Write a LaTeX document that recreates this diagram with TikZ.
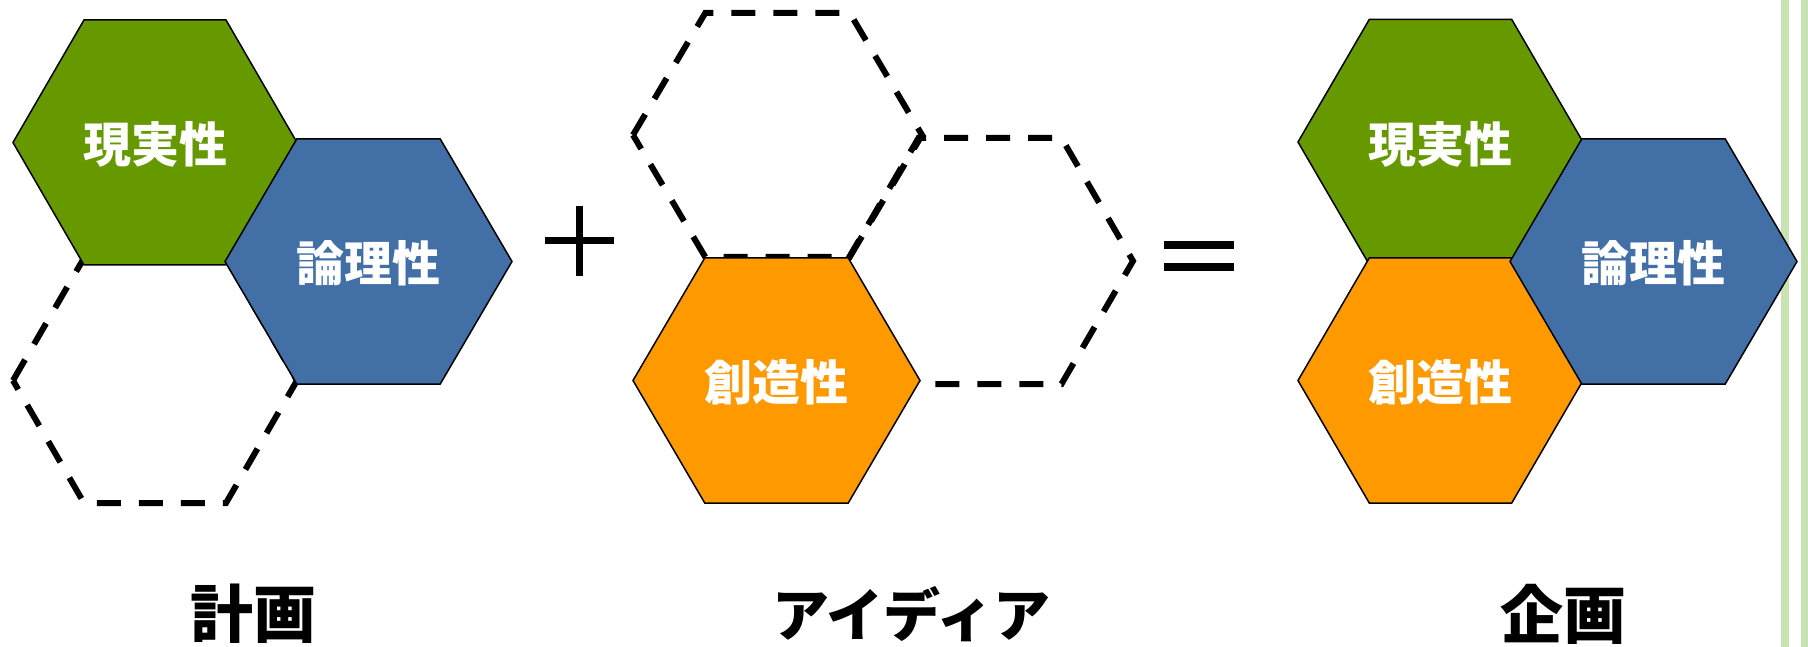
\documentclass[tikz,border=0pt]{standalone}
\usepackage{fontspec}
\newfontfamily\jp{Noto Sans CJK JP}
\definecolor{hgreen}{HTML}{669900}
\definecolor{hblue}{HTML}{416FA6}
\definecolor{horange}{HTML}{FF9900}
\definecolor{barcol}{HTML}{C9E2B3}
\tikzset{
  solidhex/.style={draw=black, line width=1.5pt, line join=miter},
  dashhex/.style={draw=black, line width=6pt, dash pattern=on 24pt off 18pt, line join=miter},
  hexlabel/.style={text=white, font=\jp\bfseries\fontsize{48}{52}\selectfont, inner sep=0pt},
  biglabel/.style={text=black, font=\jp\bfseries\fontsize{63}{66}\selectfont, inner sep=0pt},
  katalabel/.style={text=black, font=\jp\bfseries\fontsize{57}{62}\selectfont, inner sep=0pt},
  signbar/.style={fill=black, draw=none}
}
% \hexa[style]{cx}{cy}{R}{h}
\newcommand{\hexa}[5][]{%
  \path[#1] ({#2-#4},#3) -- ({#2-#4/2},{#3-#5}) -- ({#2+#4/2},{#3-#5}) -- ({#2+#4},#3)
    -- ({#2+#4/2},{#3+#5}) -- ({#2-#4/2},{#3+#5}) -- cycle;}
\begin{document}
\begin{tikzpicture}[x=1pt,y=-1pt]
\useasboundingbox (0,0) rectangle (1808,647);
% side bars
\fill[barcol] (1781,0) rectangle (1789,647);
\fill[barcol] (1801,0) rectangle (1808,647);

% ---- left group: plan
\hexa[dashhex]{155}{380.5}{142}{122.5}
\hexa[solidhex, fill=hgreen]{155}{142.5}{142}{122.5}
\hexa[solidhex, fill=hblue]{368.5}{261.5}{143.5}{122.5}
\node[hexlabel] (l1) at (155,144) {現実性};
\node[hexlabel] (l2) at (368.5,263) {論理性};

% plus sign
\fill[signbar] (545,237) rectangle (614,244);
\fill[signbar] (576,206) rectangle (583,276);

% ---- middle group: idea
\hexa[dashhex]{777.5}{135}{144.5}{122}
\hexa[dashhex]{990}{261}{143}{123}
\hexa[solidhex, fill=horange]{776.5}{380.5}{143.5}{122.5}
\node[hexlabel] (m1) at (776.5,382) {創造性};

% equals sign
\fill[signbar] (1164,241) rectangle (1234,249);
\fill[signbar] (1164,263) rectangle (1234,271);

% ---- right group: project
\hexa[solidhex, fill=hgreen]{1440.5}{142}{142.5}{122.5}
\hexa[solidhex, fill=horange]{1440.5}{380.5}{142.5}{122.5}
\hexa[solidhex, fill=hblue]{1653.5}{261.5}{143.5}{122.5}
\node[hexlabel] (r1) at (1440.5,144) {現実性};
\node[hexlabel] (r2) at (1653.5,263) {論理性};
\node[hexlabel] (r3) at (1440.5,382) {創造性};

% bottom labels
\node[biglabel] (t1) at (253.5,614) {計画};
\node[katalabel] (t2) at (911.5,614) {アイディア};
\node[biglabel] (t3) at (1563,614) {企画};
\end{tikzpicture}
\end{document}
